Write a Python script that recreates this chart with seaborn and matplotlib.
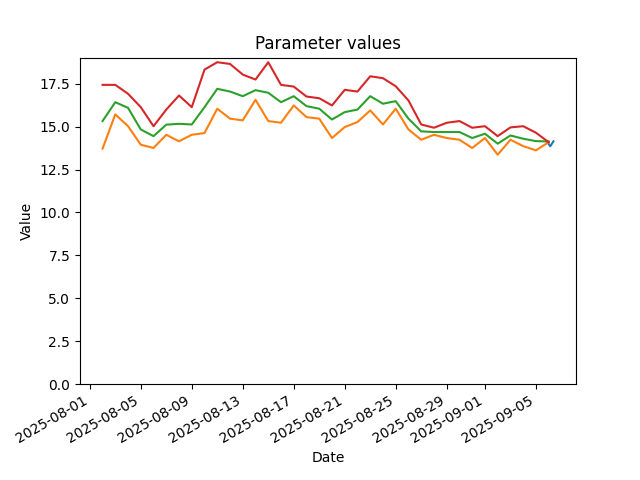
import numpy as np
import pandas as pd
import seaborn as sns
import matplotlib
matplotlib.use("Agg")
import matplotlib.pyplot as plt

dates = pd.date_range("2025-08-02", periods=36, freq="D")

lower = [13.72, 15.72, 15.03, 13.95, 13.76, 14.53, 14.15, 14.53, 14.63, 16.05,
         15.47, 15.37, 16.57, 15.33, 15.23, 16.24, 15.56, 15.47, 14.34, 14.98,
         15.27, 15.95, 15.13, 16.05, 14.84, 14.24, 14.53, 14.34, 14.24, 13.76,
         14.34, 13.37, 14.24, 13.87, 13.62, 14.10]
mean = [15.33, 16.43, 16.10, 14.84, 14.45, 15.12, 15.17, 15.13, 16.14, 17.21,
        17.05, 16.78, 17.13, 16.98, 16.43, 16.78, 16.20, 16.05, 15.42, 15.85,
        16.00, 16.78, 16.34, 16.49, 15.47, 14.73, 14.69, 14.69, 14.69, 14.34,
        14.59, 14.01, 14.49, 14.30, 14.16, 14.14]
upper = [17.44, 17.44, 16.92, 16.14, 15.03, 16.00, 16.82, 16.14, 18.33, 18.76,
         18.66, 18.04, 17.75, 18.76, 17.44, 17.34, 16.76, 16.66, 16.24, 17.15,
         17.05, 17.94, 17.83, 17.36, 16.53, 15.13, 14.94, 15.23, 15.33, 14.94,
         15.03, 14.45, 14.96, 15.03, 14.65, 14.10]

# short run of actual readings at the very end
actual_dates = pd.to_datetime(["2025-09-05 22:00", "2025-09-06 03:00", "2025-09-06 09:00"])
actual = [14.08, 13.86, 14.15]

fig, ax = plt.subplots(figsize=(6.4, 4.8), dpi=100)

sns.lineplot(x=actual_dates, y=actual, color="tab:blue", ax=ax)
sns.lineplot(x=dates, y=lower, color="tab:orange", ax=ax)
sns.lineplot(x=dates, y=mean, color="tab:green", ax=ax)
sns.lineplot(x=dates, y=upper, color="tab:red", ax=ax)

ax.set_ylim(bottom=0)
ax.set_title("Parameter values")
ax.set_xlabel("Date")
ax.set_ylabel("Value")
fig.autofmt_xdate()

fig.savefig("out.png", dpi=100)
